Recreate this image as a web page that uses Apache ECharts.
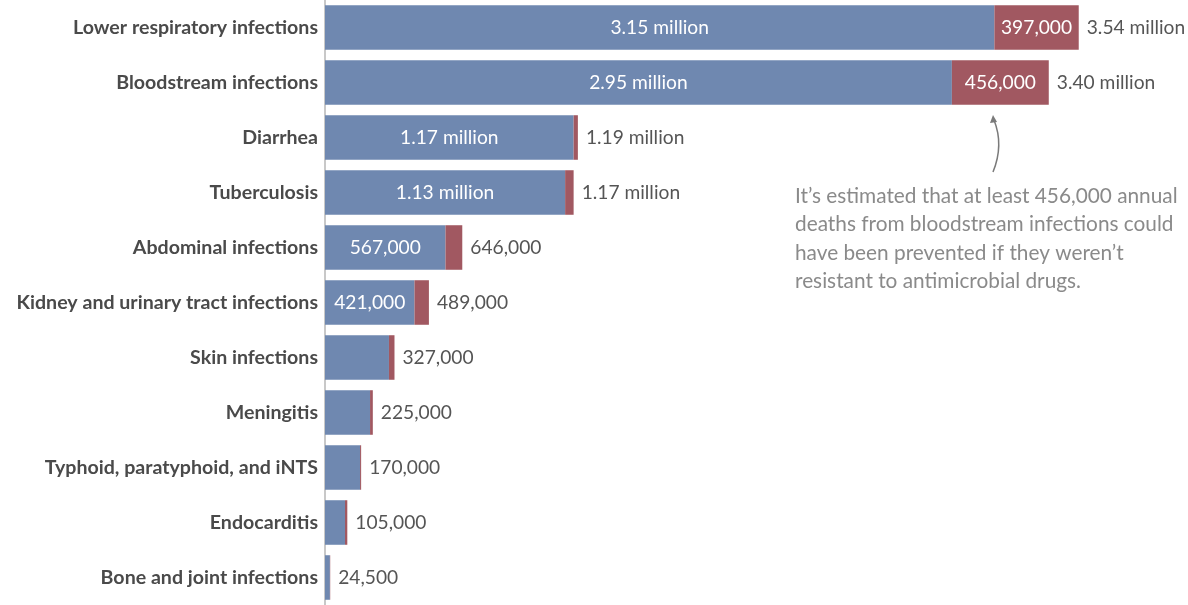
<!DOCTYPE html>
<html lang="en">
<head>
    <meta charset="utf-8">
    <title>Deaths associated with antimicrobial resistance by infection type</title>
    <style>
        html, body { margin: 0; padding: 0; background: #fff; }
        #main { width: 1188px; height: 605px; }
    </style>
</head>
<body>
<div id="main"></div>
<script src="https://cdn.jsdelivr.net/npm/echarts@6/dist/echarts.min.js"></script>
<script type="text/javascript">

    // infection types, top to bottom
    var categories = ['Lower respiratory infections', 'Bloodstream infections', 'Diarrhea', 'Tuberculosis',
        'Abdominal infections', 'Kidney and urinary tract infections', 'Skin infections', 'Meningitis',
        'Typhoid, paratyphoid, and iNTS', 'Endocarditis', 'Bone and joint infections'];
    // blue part and red part of each bar (deaths)
    var blueValues = [3150000, 2950000, 1170000, 1130000, 567000, 421000, 301000, 212000, 165000, 94000, 23000];
    var redValues = [397000, 456000, 20000, 40000, 79000, 68000, 26000, 13000, 5000, 11000, 1500];
    // labels drawn on the bars and at their ends
    var blueLabels = ['3.15 million', '2.95 million', '1.17 million', '1.13 million', '567,000', '421,000', '', '', '', '', ''];
    var redLabels = ['397,000', '456,000', '', '', '', '', '', '', '', '', ''];
    var totalLabels = ['3.54 million', '3.40 million', '1.19 million', '1.17 million', '646,000', '489,000',
        '327,000', '225,000', '170,000', '105,000', '24,500'];

    var totals = blueValues.map(function (v, i) { return v + redValues[i]; });

    var myChart = echarts.init(document.getElementById('main'));

    var option = {
        animation: false,
        textStyle: { fontFamily: 'Lato, "Noto Sans", sans-serif' },
        grid: { left: 325, right: 13, top: 0, bottom: 0 },
        xAxis: {
            type: 'value',
            min: 0,
            max: 4000000,
            show: false
        },
        yAxis: {
            type: 'category',
            inverse: true,
            data: categories,
            axisLine: { show: true, lineStyle: { color: '#c8c8c8', width: 2 } },
            axisTick: { show: false },
            axisLabel: {
                margin: 7,
                fontSize: 19.6,
                fontWeight: 'bold',
                color: '#4a4a4a',
                fontFamily: 'Lato, "Noto Sans", sans-serif'
            }
        },
        series: [
            {
                name: 'blue',
                type: 'bar',
                stack: 'deaths',
                barWidth: '81%',
                data: blueValues,
                itemStyle: { color: '#6f88b0' },
                label: {
                    show: true,
                    position: 'inside',
                    color: '#fff',
                    fontSize: 19.2,
                    formatter: function (p) { return blueLabels[p.dataIndex]; }
                }
            },
            {
                name: 'red',
                type: 'bar',
                stack: 'deaths',
                data: redValues,
                itemStyle: { color: '#a15861' },
                label: {
                    show: true,
                    position: 'inside',
                    color: '#fff',
                    fontSize: 19.2,
                    formatter: function (p) { return redLabels[p.dataIndex]; }
                }
            },
            {
                name: 'total',
                type: 'bar',
                barGap: '-100%',
                barWidth: '81%',
                data: totals,
                silent: true,
                itemStyle: { color: 'rgba(0,0,0,0)' },
                label: {
                    show: true,
                    position: 'right',
                    distance: 8,
                    color: '#555',
                    fontSize: 19.2,
                    formatter: function (p) { return totalLabels[p.dataIndex]; }
                },
                z: 1
            }
        ],
        graphic: [
            {
                type: 'text',
                x: 795,
                y: 182,
                style: {
                    text: 'It\u2019s estimated that at least 456,000 annual\ndeaths from bloodstream infections could\nhave been prevented if they weren\u2019t\nresistant to antimicrobial drugs.',
                    font: '20.8px Lato, "Noto Sans", sans-serif',
                    fill: '#8a8a8a',
                    lineHeight: 28.5
                }
            },
            {
                type: 'bezierCurve',
                shape: { x1: 993, y1: 172, cpx1: 1004, cpy1: 145, x2: 994, y2: 120 },
                style: { stroke: '#7a7a7a', lineWidth: 1.5, fill: null }
            },
            {
                type: 'polygon',
                shape: { points: [[993, 115], [990, 123], [997, 122]] },
                style: { fill: '#7a7a7a' }
            }
        ]
    };

    myChart.setOption(option);

</script>
</body>
</html>
